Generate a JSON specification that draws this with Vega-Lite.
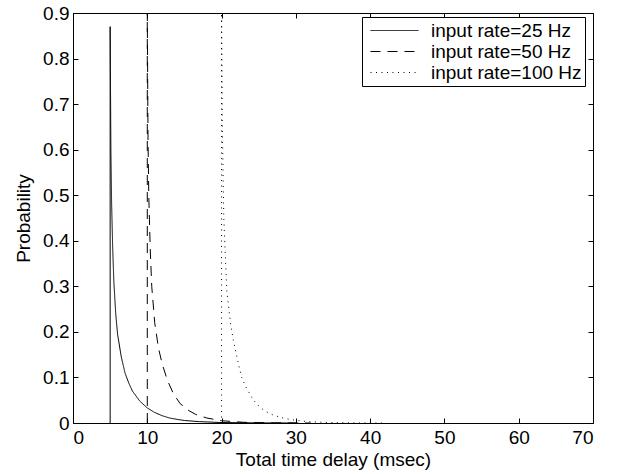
{
  "$schema": "https://vega.github.io/schema/vega-lite/v6.json",
  "autosize": "none",
  "width": 520,
  "height": 410,
  "padding": {"left": 73, "top": 13, "right": 25, "bottom": 51},
  "background": "white",
  "config": {
    "view": {"stroke": "black", "strokeWidth": 1},
    "font": "Liberation Sans",
    "axis": {"labelFont": "Liberation Sans", "titleFont": "Liberation Sans", "labelColor": "black", "titleColor": "black", "labelFontSize": 19, "titleFontSize": 19, "titleFontWeight": "normal", "grid": false, "domain": false, "tickColor": "black"}
  },
  "data": {"values": [
    {"s": "input rate=25 Hz", "i": 0, "t": 5, "p": 0},
    {"s": "input rate=25 Hz", "i": 1, "t": 5, "p": 0.87},
    {"s": "input rate=25 Hz", "i": 2, "t": 5.1, "p": 0.6},
    {"s": "input rate=25 Hz", "i": 3, "t": 5.2, "p": 0.48},
    {"s": "input rate=25 Hz", "i": 4, "t": 5.35, "p": 0.38},
    {"s": "input rate=25 Hz", "i": 5, "t": 5.5, "p": 0.31},
    {"s": "input rate=25 Hz", "i": 6, "t": 5.75, "p": 0.24},
    {"s": "input rate=25 Hz", "i": 7, "t": 6, "p": 0.195},
    {"s": "input rate=25 Hz", "i": 8, "t": 6.5, "p": 0.145},
    {"s": "input rate=25 Hz", "i": 9, "t": 7, "p": 0.11},
    {"s": "input rate=25 Hz", "i": 10, "t": 7.5, "p": 0.088},
    {"s": "input rate=25 Hz", "i": 11, "t": 8, "p": 0.07},
    {"s": "input rate=25 Hz", "i": 12, "t": 9, "p": 0.048},
    {"s": "input rate=25 Hz", "i": 13, "t": 10, "p": 0.033},
    {"s": "input rate=25 Hz", "i": 14, "t": 11, "p": 0.023},
    {"s": "input rate=25 Hz", "i": 15, "t": 12, "p": 0.016},
    {"s": "input rate=25 Hz", "i": 16, "t": 13, "p": 0.011},
    {"s": "input rate=25 Hz", "i": 17, "t": 14, "p": 0.008},
    {"s": "input rate=25 Hz", "i": 18, "t": 15, "p": 0.0055},
    {"s": "input rate=25 Hz", "i": 19, "t": 17, "p": 0.003},
    {"s": "input rate=25 Hz", "i": 20, "t": 20, "p": 0.001},
    {"s": "input rate=25 Hz", "i": 21, "t": 25, "p": 0.0002},
    {"s": "input rate=25 Hz", "i": 22, "t": 30, "p": 0},
    {"s": "input rate=50 Hz", "i": 0, "t": 10, "p": 0},
    {"s": "input rate=50 Hz", "i": 1, "t": 10, "p": 0.9},
    {"s": "input rate=50 Hz", "i": 2, "t": 10.1, "p": 0.62},
    {"s": "input rate=50 Hz", "i": 3, "t": 10.2, "p": 0.5},
    {"s": "input rate=50 Hz", "i": 4, "t": 10.4, "p": 0.38},
    {"s": "input rate=50 Hz", "i": 5, "t": 10.6, "p": 0.3},
    {"s": "input rate=50 Hz", "i": 6, "t": 11, "p": 0.22},
    {"s": "input rate=50 Hz", "i": 7, "t": 11.5, "p": 0.165},
    {"s": "input rate=50 Hz", "i": 8, "t": 12, "p": 0.13},
    {"s": "input rate=50 Hz", "i": 9, "t": 12.7, "p": 0.094},
    {"s": "input rate=50 Hz", "i": 10, "t": 13.5, "p": 0.065},
    {"s": "input rate=50 Hz", "i": 11, "t": 14.4, "p": 0.043},
    {"s": "input rate=50 Hz", "i": 12, "t": 15.5, "p": 0.028},
    {"s": "input rate=50 Hz", "i": 13, "t": 16.5, "p": 0.019},
    {"s": "input rate=50 Hz", "i": 14, "t": 18, "p": 0.011},
    {"s": "input rate=50 Hz", "i": 15, "t": 20, "p": 0.005},
    {"s": "input rate=50 Hz", "i": 16, "t": 23, "p": 0.0015},
    {"s": "input rate=50 Hz", "i": 17, "t": 27, "p": 0.0003},
    {"s": "input rate=50 Hz", "i": 18, "t": 32, "p": 0},
    {"s": "input rate=100 Hz", "i": 0, "t": 20, "p": 0},
    {"s": "input rate=100 Hz", "i": 1, "t": 20, "p": 0.9},
    {"s": "input rate=100 Hz", "i": 2, "t": 20.1, "p": 0.65},
    {"s": "input rate=100 Hz", "i": 3, "t": 20.3, "p": 0.45},
    {"s": "input rate=100 Hz", "i": 4, "t": 20.7, "p": 0.29},
    {"s": "input rate=100 Hz", "i": 5, "t": 21.2, "p": 0.22},
    {"s": "input rate=100 Hz", "i": 6, "t": 21.6, "p": 0.18},
    {"s": "input rate=100 Hz", "i": 7, "t": 22.2, "p": 0.135},
    {"s": "input rate=100 Hz", "i": 8, "t": 22.7, "p": 0.1},
    {"s": "input rate=100 Hz", "i": 9, "t": 23.4, "p": 0.075},
    {"s": "input rate=100 Hz", "i": 10, "t": 24.3, "p": 0.05},
    {"s": "input rate=100 Hz", "i": 11, "t": 25.2, "p": 0.034},
    {"s": "input rate=100 Hz", "i": 12, "t": 26, "p": 0.025},
    {"s": "input rate=100 Hz", "i": 13, "t": 27, "p": 0.017},
    {"s": "input rate=100 Hz", "i": 14, "t": 28.5, "p": 0.01},
    {"s": "input rate=100 Hz", "i": 15, "t": 29.7, "p": 0.0066},
    {"s": "input rate=100 Hz", "i": 16, "t": 31.5, "p": 0.003},
    {"s": "input rate=100 Hz", "i": 17, "t": 34.6, "p": 0.001},
    {"s": "input rate=100 Hz", "i": 18, "t": 38, "p": 0.0002},
    {"s": "input rate=100 Hz", "i": 19, "t": 42, "p": 0}
  ]},
  "layer": [
    {
      "mark": {"type": "line", "color": "black", "strokeWidth": 1},
      "encoding": {
        "x": {"field": "t", "type": "quantitative", "scale": {"domain": [0, 70], "nice": false, "zero": false},
              "axis": {"orient": "bottom", "values": [0, 10, 20, 30, 40, 50, 60, 70], "ticks": false, "labelPadding": 5, "title": "Total time delay (msec)", "titlePadding": 3}},
        "y": {"field": "p", "type": "quantitative", "scale": {"domain": [0, 0.9], "nice": false},
              "axis": {"orient": "left", "values": [0, 0.1, 0.2, 0.3, 0.4, 0.5, 0.6, 0.7, 0.8, 0.9], "format": ".1~f", "ticks": false, "labelPadding": 4, "title": "Probability", "titlePadding": 9}},
        "strokeDash": {"field": "s", "type": "nominal",
          "scale": {"domain": ["input rate=25 Hz", "input rate=50 Hz", "input rate=100 Hz"], "range": [[1, 0], [10, 7], [1, 4.5]]},
          "legend": {"title": null, "orient": "none", "legendX": 289, "legendY": 4, "symbolType": "M-2.4,0H2.4", "symbolSize": 400, "symbolOffset": 19, "symbolStrokeWidth": 1, "symbolStrokeColor": "black", "symbolFillColor": "transparent", "labelFontSize": 19, "labelFont": "Liberation Sans", "labelColor": "black", "strokeColor": "black", "fillColor": "white", "padding": 3, "rowPadding": -1, "labelOffset": 26, "labelLimit": 300}},
        "order": {"field": "i", "type": "quantitative"}
      }
    },
    {
      "mark": {"type": "point", "opacity": 0},
      "encoding": {
        "x": {"field": "t", "type": "quantitative", "axis": {"orient": "bottom", "values": [0, 10, 20, 30, 40, 50, 60, 70], "labels": false, "title": null, "offset": -5, "tickSize": 5}},
        "y": {"field": "p", "type": "quantitative", "axis": {"orient": "left", "values": [0, 0.1, 0.2, 0.3, 0.4, 0.5, 0.6, 0.7, 0.8, 0.9], "labels": false, "title": null, "offset": -5, "tickSize": 5}}
      }
    },
    {
      "mark": {"type": "point", "opacity": 0},
      "encoding": {
        "x": {"field": "t", "type": "quantitative", "axis": {"orient": "top", "values": [0, 10, 20, 30, 40, 50, 60, 70], "labels": false, "title": null, "offset": -5, "tickSize": 5}},
        "y": {"field": "p", "type": "quantitative", "axis": {"orient": "right", "values": [0, 0.1, 0.2, 0.3, 0.4, 0.5, 0.6, 0.7, 0.8, 0.9], "labels": false, "title": null, "offset": -5, "tickSize": 5}}
      }
    }
  ],
  "resolve": {"axis": {"x": "independent", "y": "independent"}}
}
